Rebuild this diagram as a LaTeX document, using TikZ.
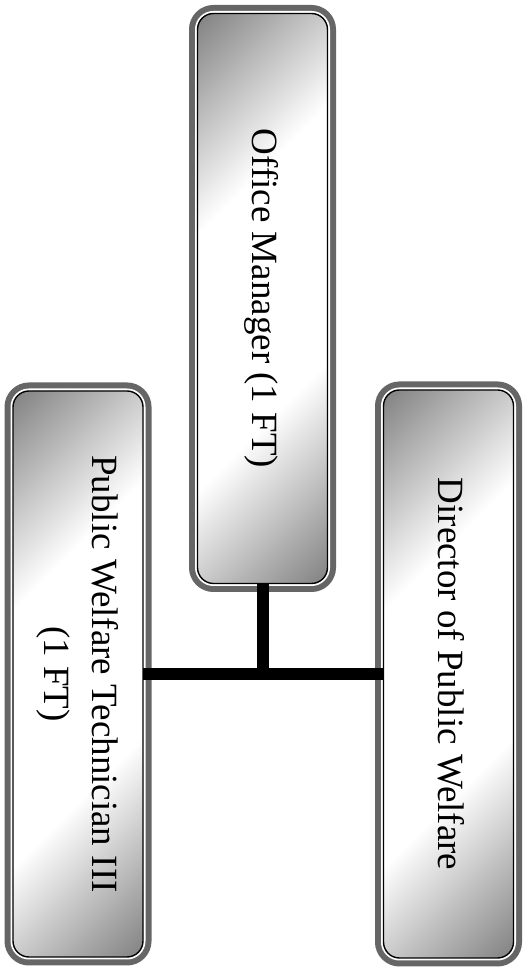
\documentclass[tikz,border=0pt]{standalone}
\usepackage{fontspec}
\setmainfont{Liberation Serif}
\usetikzlibrary{positioning}

\pgfdeclareverticalshading{diagband}{100bp}{color(0bp)=(black!55); color(12bp)=(black!55); color(37bp)=(white); color(63bp)=(white); color(88bp)=(black!55); color(100bp)=(black!55)}
\newcommand{\sidetext}[1]{\rotatebox{-90}{\begin{tabular}{@{}c@{}}#1\end{tabular}}}

\begin{document}
\begin{tikzpicture}
    [
        x=1pt, y=1pt,
        post/.style={rectangle, rounded corners=16pt, minimum width=130pt, inner sep=0pt, outer sep=0pt,
            preaction={draw=black!60, line width=17pt},
            preaction={draw=white, line width=5pt},
            shade, shading=diagband, shading angle=45,
            draw=black, line width=1.4pt,
            font=\fontsize{37}{48}\selectfont},
        link/.style={line width=12pt}
    ]
    \useasboundingbox (0,0) rectangle (532,968);
    %nodes
    \node[post, minimum height=570pt] at (262.5,669.5) (office_manager) {\sidetext{Office Manager (1 FT)}};
    \node[post, minimum height=566pt] at (78,294)      (technician)     {\sidetext{Public Welfare Technician III\\(1 FT)}};
    \node[post, minimum height=568pt] at (448.5,294)   (director)       {\sidetext{Director of Public Welfare}};
    %lines
    \draw[link] (technician.east) -- (director.west);
    \draw[link] (office_manager.south) -- (office_manager.south |- technician.east);
\end{tikzpicture}
\end{document}
